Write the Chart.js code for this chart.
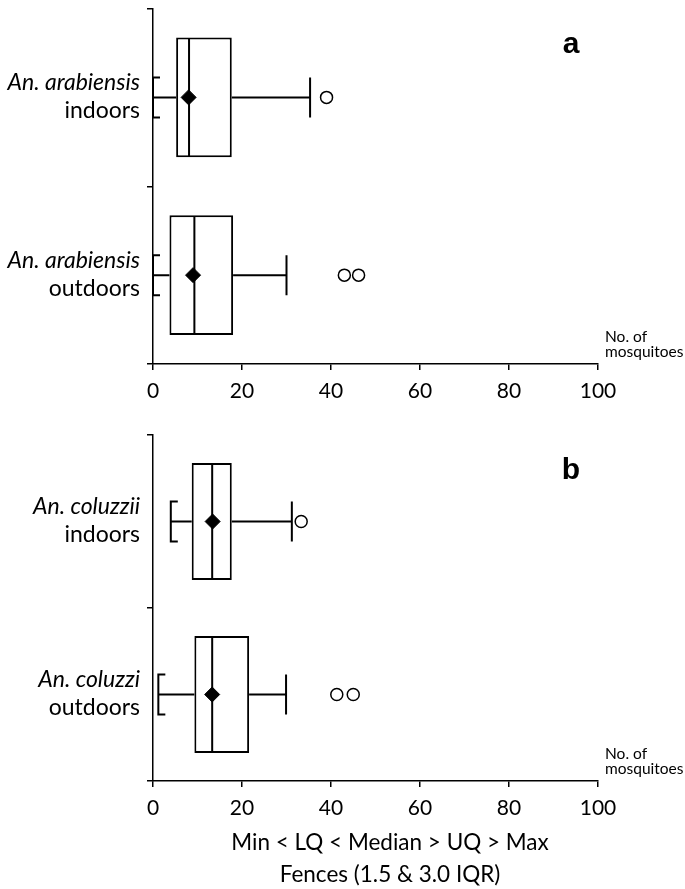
<!DOCTYPE html>
<html>
<head>
<meta charset="utf-8">
<script src="https://cdn.jsdelivr.net/npm/chart.js@4.4.1/dist/chart.umd.min.js"></script>
<style>
  body { margin: 0; background: #fff; }
  #wrap { position: relative; width: 685px; height: 889px; }
  canvas { position: absolute; left: 0; }
  #chart-a { top: 0; }
  #chart-b { top: 420px; }
</style>
</head>
<body>
<div id="wrap">
  <canvas id="chart-a" width="685" height="410"></canvas>
  <canvas id="chart-b" width="685" height="469"></canvas>
</div>
<script>
// ---- data ----
const groups = ['indoors', 'outdoors'];
const xTicks = [0, 20, 40, 60, 80, 100];

// panel a : An. arabiensis
const speciesA = ['An. arabiensis', 'An. arabiensis'];
const minA = [0, 0];
const lqA = [5.2, 3.7];
const medianA = [8.1, 9.3];
const uqA = [17.7, 18.0];
const maxA = [35.3, 30.0];
const meanA = [8.0, 9.0];
const outliersA = [[39.0], [43.0, 46.2]];

// panel b : An. coluzzii
const speciesB = ['An. coluzzii', 'An. coluzzi'];
const minB = [4.0, 1.2];
const lqB = [8.7, 9.3];
const medianB = [13.3, 13.3];
const uqB = [17.7, 21.6];
const maxB = [31.2, 29.9];
const meanB = [13.4, 13.3];
const outliersB = [[33.3], [41.3, 45.0]];

const FONT = 'Lato, "Open Sans", sans-serif';

function makePanel(id, p) {
    var canvas = document.getElementById(id);

    var extras = {
        id: 'boxExtras',
        afterDatasetDraw(chart, args) {
            if (args.index !== 0) return;
            const ctx = chart.ctx;
            const xs = chart.scales.x;
            ctx.save();
            ctx.strokeStyle = '#000';
            ctx.lineWidth = 2;
            args.meta.data.forEach((bar, i) => {
                const yc = bar.y;
                const h = bar.height / 2;
                const cap = 20;
                const xMin = xs.getPixelForValue(p.min[i]);
                const xLq = xs.getPixelForValue(p.lq[i]);
                const xMed = xs.getPixelForValue(p.median[i]);
                const xUq = xs.getPixelForValue(p.uq[i]);
                const xMax = xs.getPixelForValue(p.max[i]);
                ctx.beginPath();
                // median
                ctx.moveTo(xMed, yc - h + 1);
                ctx.lineTo(xMed, yc + h - 1);
                // whiskers
                ctx.moveTo(xMin, yc);
                ctx.lineTo(xLq, yc);
                ctx.moveTo(xUq, yc);
                ctx.lineTo(xMax, yc);
                // upper fence
                ctx.moveTo(xMax, yc - cap);
                ctx.lineTo(xMax, yc + cap);
                // lower fence bracket
                ctx.moveTo(xMin + 7, yc - cap);
                ctx.lineTo(xMin, yc - cap);
                ctx.lineTo(xMin, yc + cap);
                ctx.lineTo(xMin + 7, yc + cap);
                ctx.stroke();
            });
            ctx.restore();
        },
        afterDraw(chart) {
            const ctx = chart.ctx;
            const ys = chart.scales.y;
            const area = chart.chartArea;
            ctx.save();
            ctx.fillStyle = '#000';
            ctx.textAlign = 'right';
            ctx.textBaseline = 'middle';
            groups.forEach((g, i) => {
                const yc = ys.getPixelForValue(i);
                ctx.font = 'italic 23px ' + FONT;
                ctx.fillText(p.species[i], 140, yc - 15);
                ctx.font = '23px ' + FONT;
                ctx.fillText(g, 140, yc + 13);
            });
            // axis unit note
            ctx.textAlign = 'left';
            ctx.textBaseline = 'alphabetic';
            ctx.font = '15.5px ' + FONT;
            ctx.fillText('No. of', 605, area.bottom - 22);
            ctx.fillText('mosquitoes', 605, area.bottom - 7);
            // panel letter
            ctx.textAlign = 'center';
            ctx.font = 'bold 30px "Liberation Sans", Arial, sans-serif';
            ctx.fillText(p.letter, 571, area.top + p.letterY);
            if (p.footer) {
                ctx.textBaseline = 'middle';
                ctx.font = '22.5px ' + FONT;
                ctx.fillText('Min < LQ < Median > UQ > Max', 390, area.bottom + 62);
                ctx.fillText('Fences (1.5 & 3.0 IQR)', 390, area.bottom + 94);
            }
            ctx.restore();
        }
    };

    var outlierPts = [];
    p.outliers.forEach((list, i) => {
        list.forEach(v => outlierPts.push({x: v, y: groups[i]}));
    });

    return new Chart(canvas, {
        type: 'bar',
        data: {
            labels: groups,
            datasets: [{
                data: p.lq.map((v, i) => [v, p.uq[i]]),
                backgroundColor: '#fff',
                borderColor: '#000',
                borderWidth: 2,
                borderSkipped: false,
                barPercentage: 0.675,
                categoryPercentage: 1,
                order: 3
            },
            {
                type: 'scatter',
                data: p.mean.map((v, i) => ({x: v, y: groups[i]})),
                pointStyle: 'rectRot',
                pointRadius: 7.5,
                backgroundColor: '#000',
                borderColor: '#000',
                borderWidth: 1,
                order: 2
            },
            {
                type: 'scatter',
                data: outlierPts,
                pointStyle: 'circle',
                pointRadius: 6,
                backgroundColor: '#fff',
                borderColor: '#000',
                borderWidth: 1.5,
                order: 1
            }]
        },
        options: {
            indexAxis: 'y',
            responsive: false,
            animation: false,
            layout: {
                padding: { top: p.top, left: 0, right: 87, bottom: 0 }
            },
            plugins: {
                legend: { display: false },
                tooltip: { enabled: false }
            },
            scales: {
                x: {
                    type: 'linear',
                    min: 0,
                    max: 100,
                    afterBuildTicks: s => { s.ticks = xTicks.map(v => ({ value: v })); },
                    afterFit: s => { s.height = p.axisH; },
                    ticks: {
                        color: '#000',
                        padding: 9,
                        font: { size: 21, family: FONT }
                    },
                    grid: {
                        drawOnChartArea: false,
                        color: '#000',
                        lineWidth: 1.5,
                        tickLength: 6
                    },
                    border: { color: '#000', width: 1.5 }
                },
                y: {
                    afterFit: s => { s.width = 153; },
                    ticks: { display: false },
                    grid: {
                        drawOnChartArea: false,
                        color: '#000',
                        lineWidth: 1.5,
                        tickLength: 6
                    },
                    border: { color: '#000', width: 1.5 }
                }
            }
        },
        plugins: [extras]
    });
}

var chartA = makePanel('chart-a', {
    letter: 'a', letterY: 44, top: 4, axisH: 46, footer: false,
    species: speciesA, min: minA, lq: lqA, median: medianA, uq: uqA,
    max: maxA, mean: meanA, outliers: outliersA
});

var chartB = makePanel('chart-b', {
    letter: 'b', letterY: 44, top: 15, axisH: 108, footer: true,
    species: speciesB, min: minB, lq: lqB, median: medianB, uq: uqB,
    max: maxB, mean: meanB, outliers: outliersB
});
</script>
</body>
</html>
